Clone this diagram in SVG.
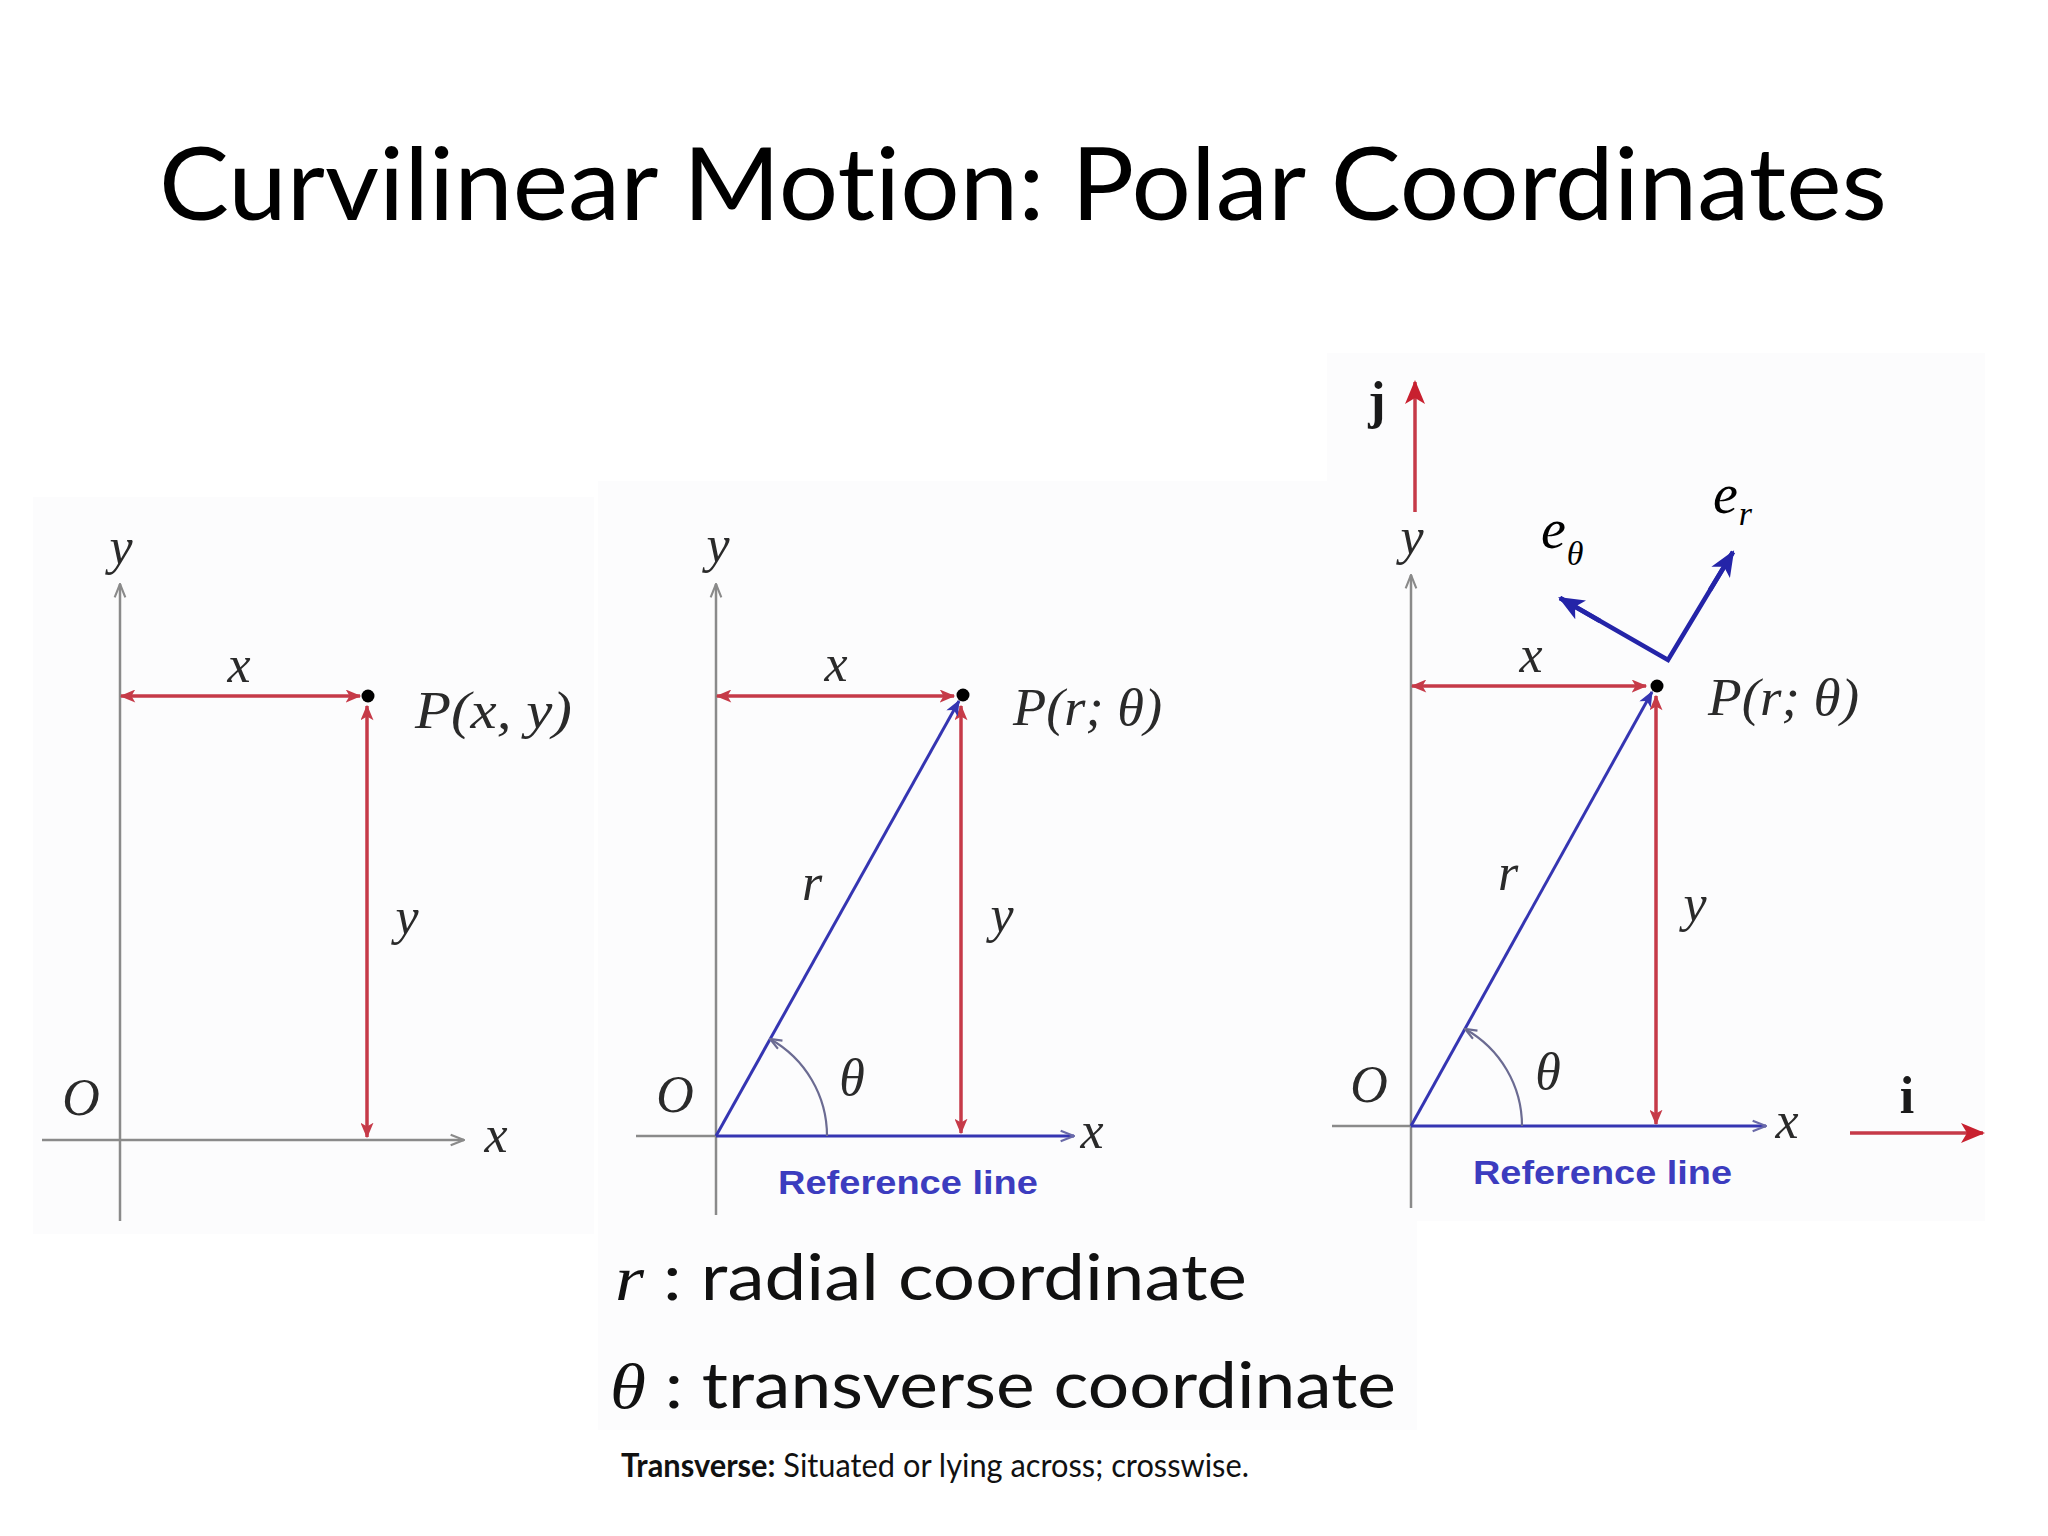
<svg xmlns="http://www.w3.org/2000/svg" width="2048" height="1536" viewBox="0 0 2048 1536">
<style>
.bg{fill:#ffffff}
.panel{fill:#fcfcfd}
.axis{stroke:#8a8a8a;stroke-width:2.5;fill:none}
.red{stroke:#c63a48;stroke-width:3.5;fill:none}
.blue{stroke:#3535b2;stroke-width:3;fill:none}
.vec{stroke:#2424a8;stroke-width:4.5;fill:none}
.arc{stroke:#6b6b92;stroke-width:2.2;fill:none}
.m{font-family:"Liberation Serif","Times New Roman",serif;font-style:italic;font-size:52px;fill:#2a2a2a}
.bold{font-family:"Liberation Serif","Times New Roman",serif;font-weight:bold;font-size:52px;fill:#1a1a1a}
.ref{font-family:"Liberation Sans",Arial,sans-serif;font-weight:bold;font-size:34px;fill:#3c3cbf}
.title{font-family:Lato,"Open Sans",sans-serif;font-size:100px;fill:#000;font-variant-ligatures:none}
.cal{font-family:Lato,"Open Sans",sans-serif;fill:#111;font-variant-ligatures:none}
</style>
<defs>
<marker id="aRed" viewBox="0 0 12 10" refX="11" refY="5" markerWidth="16" markerHeight="13" markerUnits="userSpaceOnUse" orient="auto-start-reverse"><path d="M0,0 L12,5 L0,10 L3,5 z" fill="#c63a48"/></marker>
<marker id="aRedBig" viewBox="0 0 12 10" refX="11" refY="5" markerWidth="24" markerHeight="20" markerUnits="userSpaceOnUse" orient="auto"><path d="M0,0 L12,5 L0,10 L3,5 z" fill="#c8202f"/></marker>
<marker id="aGray" viewBox="0 0 12 10" refX="11" refY="5" markerWidth="16" markerHeight="14" markerUnits="userSpaceOnUse" orient="auto"><path d="M1,1 L11,5 L1,9" fill="none" stroke="#8a8a8a" stroke-width="1.6"/></marker>
<marker id="aGrayBlue" viewBox="0 0 12 10" refX="11" refY="5" markerWidth="16" markerHeight="14" markerUnits="userSpaceOnUse" orient="auto"><path d="M1,1 L11,5 L1,9" fill="none" stroke="#6a6aa8" stroke-width="1.6"/></marker>
<marker id="aBlue" viewBox="0 0 12 10" refX="11" refY="5" markerWidth="16" markerHeight="13" markerUnits="userSpaceOnUse" orient="auto"><path d="M0,0 L12,5 L0,10 L3,5 z" fill="#3535b2"/></marker>
<marker id="aVec" viewBox="0 0 12 10" refX="11" refY="5" markerWidth="26" markerHeight="22" markerUnits="userSpaceOnUse" orient="auto"><path d="M0,0 L12,5 L0,10 L3,5 z" fill="#2424a8"/></marker>
<marker id="aArc" viewBox="0 0 12 10" refX="11" refY="5" markerWidth="14" markerHeight="12" markerUnits="userSpaceOnUse" orient="auto"><path d="M1,1 L11,5 L1,9" fill="none" stroke="#6b6b92" stroke-width="1.8"/></marker>
</defs>
<rect class="bg" x="0" y="0" width="2048" height="1536"/>
<text class="title" x="159" y="220" textLength="1728" lengthAdjust="spacingAndGlyphs">Curvilinear Motion: Polar Coordinates</text>

<g id="panel-cartesian">
<rect class="panel" x="33" y="497" width="561" height="737"/>
</g>
<g id="panel-polar">
<rect class="panel" x="598" y="481" width="819" height="949"/>
</g>
<g id="panel-unit-vectors">
<rect class="panel" x="1327" y="353" width="658" height="868"/>
</g>

<g id="connectors">
<line class="axis" x1="120" y1="1221" x2="120" y2="584" marker-end="url(#aGray)"/>
<line class="axis" x1="42" y1="1140" x2="464" y2="1140" marker-end="url(#aGray)"/>
<line class="red" x1="360" y1="696" x2="121" y2="696" marker-start="url(#aRed)" marker-end="url(#aRed)"/>
<line class="red" x1="367" y1="706" x2="367" y2="1137" marker-start="url(#aRed)" marker-end="url(#aRed)"/>
<line class="axis" x1="716" y1="1215" x2="716" y2="584" marker-end="url(#aGray)"/>
<line class="axis" x1="636" y1="1136" x2="716" y2="1136"/>
<line class="blue" x1="716" y1="1136" x2="1074" y2="1136" marker-end="url(#aGrayBlue)"/>
<line class="red" x1="954" y1="696" x2="717" y2="696" marker-start="url(#aRed)" marker-end="url(#aRed)"/>
<line class="red" x1="961" y1="706" x2="961" y2="1133" marker-start="url(#aRed)" marker-end="url(#aRed)"/>
<line class="blue" x1="716" y1="1136" x2="959" y2="701" marker-end="url(#aBlue)"/>
<path class="arc" d="M827,1136 A111,111 0 0 0 770,1039" marker-end="url(#aArc)"/>
<line class="axis" x1="1411" y1="1208" x2="1411" y2="575" marker-end="url(#aGray)"/>
<line class="axis" x1="1332" y1="1126" x2="1411" y2="1126"/>
<line class="blue" x1="1411" y1="1126" x2="1766" y2="1126" marker-end="url(#aGrayBlue)"/>
<line class="red" x1="1646" y1="686" x2="1412" y2="686" marker-start="url(#aRed)" marker-end="url(#aRed)"/>
<line class="red" x1="1656" y1="696" x2="1656" y2="1124" marker-start="url(#aRed)" marker-end="url(#aRed)"/>
<line class="blue" x1="1411" y1="1126" x2="1652" y2="692" marker-end="url(#aBlue)"/>
<path class="arc" d="M1522,1126 A111,111 0 0 0 1465,1029" marker-end="url(#aArc)"/>
<line class="red" x1="1415" y1="512" x2="1415" y2="382" stroke-width="4.5" marker-end="url(#aRedBig)"/>
<line class="red" x1="1850" y1="1133" x2="1983" y2="1133" stroke-width="4.5" marker-end="url(#aRedBig)"/>
<polyline class="vec" points="1560,598 1668,660 1733,552"/>
<line class="vec" x1="1600" y1="621" x2="1560" y2="598" marker-end="url(#aVec)"/>
<line class="vec" x1="1710" y1="590" x2="1733" y2="552" marker-end="url(#aVec)"/>
</g>

<g id="node-P-cartesian">
<circle cx="368" cy="696" r="6.5" fill="#000"/>
<text class="m" x="415" y="728" textLength="157" lengthAdjust="spacingAndGlyphs">P(x, y)</text>
</g>
<g id="labels-cartesian">
<text class="m" x="121" y="564" text-anchor="middle">y</text>
<text class="m" x="496" y="1152" text-anchor="middle">x</text>
<text class="m" x="81" y="1115" text-anchor="middle">O</text>
<text class="m" x="239" y="682" text-anchor="middle">x</text>
<text class="m" x="407" y="934" text-anchor="middle">y</text>
</g>

<g id="node-P-polar">
<circle cx="963" cy="695" r="6.5" fill="#000"/>
<text class="m" x="1013" y="725" textLength="149" lengthAdjust="spacingAndGlyphs">P(r; θ)</text>
</g>
<g id="labels-polar">
<text class="m" x="718" y="562" text-anchor="middle">y</text>
<text class="m" x="1092" y="1148" text-anchor="middle">x</text>
<text class="m" x="675" y="1112" text-anchor="middle">O</text>
<text class="m" x="836" y="681" text-anchor="middle">x</text>
<text class="m" x="812" y="900" text-anchor="middle">r</text>
<text class="m" x="1002" y="932" text-anchor="middle">y</text>
<text class="m" x="852" y="1095" text-anchor="middle">θ</text>
<text class="ref" x="778" y="1194" textLength="260" lengthAdjust="spacingAndGlyphs">Reference line</text>
</g>

<g id="node-P-unit">
<circle cx="1657" cy="686" r="6.5" fill="#000"/>
<text class="m" x="1708" y="715" textLength="151" lengthAdjust="spacingAndGlyphs">P(r; θ)</text>
</g>
<g id="labels-unit">
<text class="m" x="1412" y="554" text-anchor="middle">y</text>
<text class="m" x="1787" y="1138" text-anchor="middle">x</text>
<text class="m" x="1369" y="1102" text-anchor="middle">O</text>
<text class="m" x="1531" y="672" text-anchor="middle">x</text>
<text class="m" x="1508" y="890" text-anchor="middle">r</text>
<text class="m" x="1695" y="921" text-anchor="middle">y</text>
<text class="m" x="1548" y="1089" text-anchor="middle">θ</text>
<text class="ref" x="1473" y="1184" textLength="259" lengthAdjust="spacingAndGlyphs">Reference line</text>
<text class="bold" x="1377" y="418" text-anchor="middle">j</text>
<text class="bold" x="1907" y="1113" text-anchor="middle">i</text>
<text class="m" x="1541" y="548" style="fill:#000;font-size:56px">e<tspan font-size="34" dx="1" dy="17">θ</tspan></text>
<text class="m" x="1713" y="513" style="fill:#000;font-size:56px">e<tspan font-size="34" dx="1" dy="12">r</tspan></text>
</g>

<g id="legend">
<text class="cal" x="615" y="1300" font-size="64" textLength="632" lengthAdjust="spacingAndGlyphs"><tspan font-family="Liberation Serif, serif" font-style="italic">r</tspan> : radial coordinate</text>
<text class="cal" x="610" y="1408" font-size="64" textLength="786" lengthAdjust="spacingAndGlyphs"><tspan font-family="Liberation Serif, serif" font-style="italic">θ</tspan> : transverse coordinate</text>
<text class="cal" x="621" y="1477" font-size="32" textLength="628" lengthAdjust="spacingAndGlyphs"><tspan font-weight="bold">Transverse:</tspan> Situated or lying across; crosswise.</text>
</g>
</svg>
